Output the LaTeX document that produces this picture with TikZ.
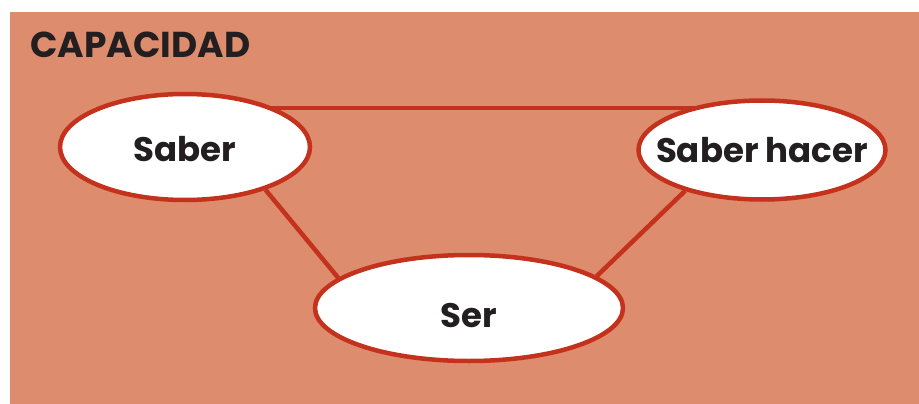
\documentclass[tikz,border=0pt]{standalone}
\usepackage{fontspec}
\setmainfont{Poppins}
\usepackage{tikz}
\usetikzlibrary{shapes.geometric}
\definecolor{fondo}{RGB}{222,140,110}
\definecolor{rojo}{RGB}{196,49,28}
\definecolor{tinta}{RGB}{35,31,32}
\pgfdeclarelayer{capafondo}
\pgfdeclarelayer{capalineas}
\pgfsetlayers{capafondo,capalineas,main}

\begin{document}
\begin{tikzpicture}[x=1pt,y=-1pt,
    elipse/.style={ellipse,draw=rojo,fill=white,line width=4.5pt},
    texto/.style={font=\fontsize{34}{40}\selectfont\bfseries,text=tinta},
    enlace/.style={draw=rojo,line width=4.5pt}]
    \useasboundingbox (0,0) rectangle (919,404);
    \begin{pgfonlayer}{capafondo}
    \fill[fondo] (10,12) rectangle (919,404);
    \end{pgfonlayer}
    \node[texto,font=\fontsize{36}{42}\selectfont\bfseries,anchor=base west] (titulo) at (27,58) {CAPACIDAD};
    \node[elipse,minimum width=250pt,minimum height=106pt,label={[texto,yshift=-2pt]center:Saber}] (saber) at (185,147) {};
    \node[elipse,minimum width=247pt,minimum height=99pt,label={[texto]center:Saber\ hacer}] (hacer) at (762,150) {};
    \node[elipse,minimum width=308pt,minimum height=106pt,label={[texto,yshift=-8pt]center:Ser}] (ser) at (469,308) {};
    \begin{pgfonlayer}{capalineas}
    \draw[enlace] ([yshift=39pt]saber.center) -- ([yshift=39pt]saber.center -| hacer.center);
    \draw[enlace] (saber.-28) -- (ser.167);
    \draw[enlace] (ser.14) -- (hacer.208);
    \end{pgfonlayer}
\end{tikzpicture}
\end{document}
